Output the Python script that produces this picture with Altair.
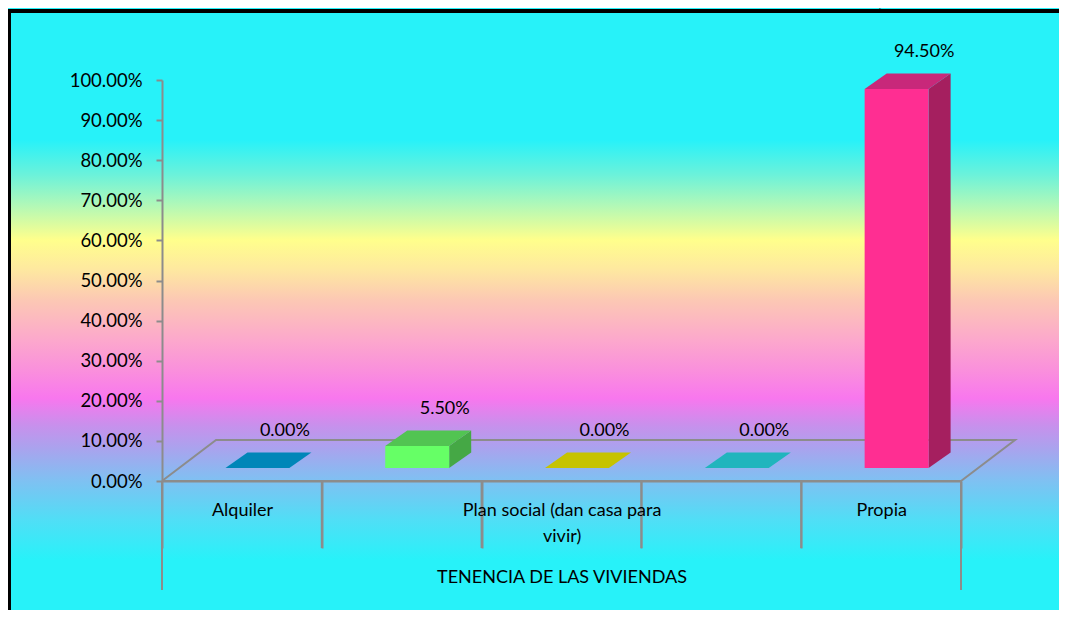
import json
import textwrap

import altair as alt
import pandas as pd

# ---------------- data ----------------
TITLE = "COMUNIDAD DE SHELLA SECTOR CONGAR – CARHUAZ, 2013"
categories = [
    "Alquiler",
    "Cuidador/alojado",
    "Plan social (dan casa para vivir)",
    "Alquiler venta",
    "Propia",
]
values = [0.0, 5.5, 0.0, 0.0, 94.5]
shown_label_idx = [0, 2, 4]  # the category axis skips every other label
x_title = "TENENCIA DE LAS VIVIENDAS"
y_ticks = [0, 10, 20, 30, 40, 50, 60, 70, 80, 90, 100]

# ---------------- style ----------------
front_colors = ["#00A6E6", "#66FF66", "#FFFF00", "#33D9E0", "#FF2E92"]
top_colors = ["#0086B8", "#52C452", "#C6C300", "#20B5BD", "#C8287A"]
side_colors = ["#006E96", "#45A845", "#A8A600", "#1A9AA0", "#A51F5F"]
GRAY = "#8C8C8C"
FONT = "Lato"

PLOT_W, PLOT_H = 799, 401
PAD = {"left": 154, "top": 72, "right": 98, "bottom": 129}
RIGHT_EDGE = PLOT_W + PAD["right"]     # svg right edge, in plot coordinates
BOTTOM_EDGE = PLOT_H + PAD["bottom"]   # svg bottom edge, in plot coordinates

N = len(categories)
BAR_W = 0.4        # bar width (category units)
SHIFT_X = 0.097    # bars sit a little into the floor depth
LIFT = 3.24        # ... and so slightly above the front edge
DEPTH_X = 0.138    # 3-D depth of a bar
DEPTH_Y = 3.87
FLOOR_X = 0.338    # depth of the floor
FLOOR_Y = 10.22

# ---------------- derived tables ----------------
front_rows, top_rows, side_rows, label_rows = [], [], [], []
for i, (cat, v) in enumerate(zip(categories, values)):
    c = i + 0.5 + SHIFT_X
    xl, xr = c - BAR_W / 2, c + BAR_W / 2
    b, t = LIFT, LIFT + v
    front_rows.append({"x": xl, "x2": xr, "y": b, "y2": t, "col": front_colors[i]})
    fid = f"top{i}"
    for (px, py, py2) in [
        (xl, t, t),
        (xl + DEPTH_X, t, t + DEPTH_Y),
        (xr, t, t + DEPTH_Y),
        (xr + DEPTH_X, t + DEPTH_Y, t + DEPTH_Y),
    ]:
        top_rows.append({"fid": fid, "x": px, "y": py, "y2": py2, "col": top_colors[i]})
    if v > 0:
        sid = f"side{i}"
        side_rows.append({"fid": sid, "x": xr, "y": b, "y2": t, "col": side_colors[i]})
        side_rows.append({"fid": sid, "x": xr + DEPTH_X, "y": b + DEPTH_Y,
                          "y2": t + DEPTH_Y, "col": side_colors[i]})
    label_rows.append({"x": i + 0.5, "y": v, "label": f"{v:.2f}%"})

floor_pts = [(0, 0), (N, 0), (N + FLOOR_X, FLOOR_Y), (FLOOR_X, FLOOR_Y), (0, 0)]
floor_df = pd.DataFrame([{"x": x, "y": y, "o": k} for k, (x, y) in enumerate(floor_pts)])

front_df = pd.DataFrame(front_rows)
top_df = pd.DataFrame(top_rows)
side_df = pd.DataFrame(side_rows)
label_df = pd.DataFrame(label_rows)
inner_div = pd.DataFrame({"x": list(range(1, N))})
outer_div = pd.DataFrame({"x": [0, N]})
one = pd.DataFrame({"a": [0]})

# ---------------- axes & scales ----------------
def label_literal(text):
    lines = textwrap.wrap(text, 26)
    if len(lines) == 1:
        return json.dumps(lines[0])
    return "[" + ", ".join(json.dumps(s) for s in lines) + "]"

expr = "''"
for i in reversed(shown_label_idx):
    expr = f"datum.value == {i} ? {label_literal(categories[i])} : ({expr})"

xs = alt.Scale(domain=[0, N], nice=False, zero=False)
ys = alt.Scale(domain=[0, 100], nice=False)

x_axis = alt.Axis(
    values=list(range(N + 1)), grid=False, zindex=1,
    domainColor=GRAY, domainWidth=2, tickColor=GRAY, tickWidth=2, tickSize=67,
    labelExpr=expr, labelOffset=80, labelPadding=-47, labelFont=FONT,
    labelFontSize=18, labelColor="#000000", labelLineHeight=26, labelLimit=400,
    labelOverlap=False, labelBound=False, labelFlush=False,
    title=x_title, titleFont=FONT, titleFontSize=18, titleFontWeight="normal",
    titleColor="#000000", titleX=PLOT_W / 2, titleY=96, titleAlign="center",
    titleBaseline="middle",
)
y_axis = alt.Axis(
    values=y_ticks, grid=False, zindex=1,
    domainColor=GRAY, domainWidth=2, tickColor=GRAY, tickWidth=2, tickSize=6,
    labelExpr="format(datum.value / 100, '.2%')", labelPadding=14,
    labelFont=FONT, labelFontSize=18.5, labelColor="#000000", title="",
)

X = alt.X("x:Q", scale=xs, axis=x_axis)
Y = alt.Y("y:Q", scale=ys, axis=y_axis)

# ---------------- layers ----------------
stops = [
    (0.0, "#27F2F9"), (0.2085, "#27F2F9"), (0.2655, "#6CF2DA"), (0.314, "#B0F8B8"),
    (0.371, "#FFFF8C"), (0.42, "#FEE8A0"), (0.469, "#FCC8B4"), (0.534, "#FCA8CC"),
    (0.583, "#FA90DC"), (0.629, "#F877EE"), (0.673, "#C890EC"), (0.713, "#A8A4EE"),
    (0.762, "#80C0F2"), (0.827, "#50DEF6"), (0.893, "#27F2F9"), (1.0, "#27F2F9"),
]
# gradient stops above are laid out over 614 px; the rect below is cut at the svg edge
GRAD_H = 614
bg = alt.Chart(one).mark_rect(
    fill=alt.Gradient(
        gradient="linear",
        stops=[alt.GradientStop(color=c, offset=min(1.0, o * GRAD_H / (BOTTOM_EDGE + 68)))
               for o, c in stops if o * GRAD_H <= BOTTOM_EDGE + 68] +
              [alt.GradientStop(color="#27F2F9", offset=1.0)],
        x1=0, x2=0, y1=0, y2=1,
    )
).encode(x=alt.value(-151), x2=alt.value(RIGHT_EDGE), y=alt.value(-68),
         y2=alt.value(BOTTOM_EDGE))

frame_left = alt.Chart(one).mark_rule(color="#000000", strokeWidth=4).encode(
    x=alt.value(-153), y=alt.value(-71), y2=alt.value(BOTTOM_EDGE)
)
frame_top = alt.Chart(one).mark_rule(color="#000000", strokeWidth=4).encode(
    x=alt.value(-155), x2=alt.value(RIGHT_EDGE), y=alt.value(-69)
)

title = alt.Chart(one).mark_text(
    text=TITLE, font="Liberation Serif", fontWeight="bold", fontSize=26,
    color="#000000", align="center", baseline="bottom",
).encode(x=alt.value(393), y=alt.value(-70))

floor = alt.Chart(floor_df).mark_line(color=GRAY, strokeWidth=2).encode(
    x=X, y=Y, order="o:Q"
)

sides = alt.Chart(side_df).mark_area(interpolate="linear").encode(
    x=X, y=Y, y2="y2:Q", fill=alt.Fill("col:N", scale=None), detail="fid:N"
)
tops = alt.Chart(top_df).mark_area(interpolate="linear").encode(
    x=X, y=Y, y2="y2:Q", fill=alt.Fill("col:N", scale=None), detail="fid:N"
)
fronts = alt.Chart(front_df).mark_rect().encode(
    x=X, x2="x2:Q", y=Y, y2="y2:Q", fill=alt.Fill("col:N", scale=None)
)
labels = alt.Chart(label_df).mark_text(
    font=FONT, fontSize=18, color="#000000", dx=43, dy=-50, baseline="middle"
).encode(x=X, y=Y, text="label:N")

inner = alt.Chart(inner_div).mark_rule(color=GRAY, strokeWidth=2).encode(
    x=X, y=alt.value(PLOT_H), y2=alt.value(PLOT_H + 67)
)
outer = alt.Chart(outer_div).mark_rule(color=GRAY, strokeWidth=2).encode(
    x=X, y=alt.value(PLOT_H), y2=alt.value(PLOT_H + 109)
)

chart = alt.layer(
    bg, title, floor, inner, outer, sides, tops, fronts, labels, frame_left, frame_top
).properties(
    width=PLOT_W, height=PLOT_H, padding=PAD,
    autosize=alt.AutoSizeParams(type="none"),
).configure_view(stroke="transparent").configure(background="#27F2F9")

chart.save("out.html", embed_options={"renderer": "svg", "actions": False})
